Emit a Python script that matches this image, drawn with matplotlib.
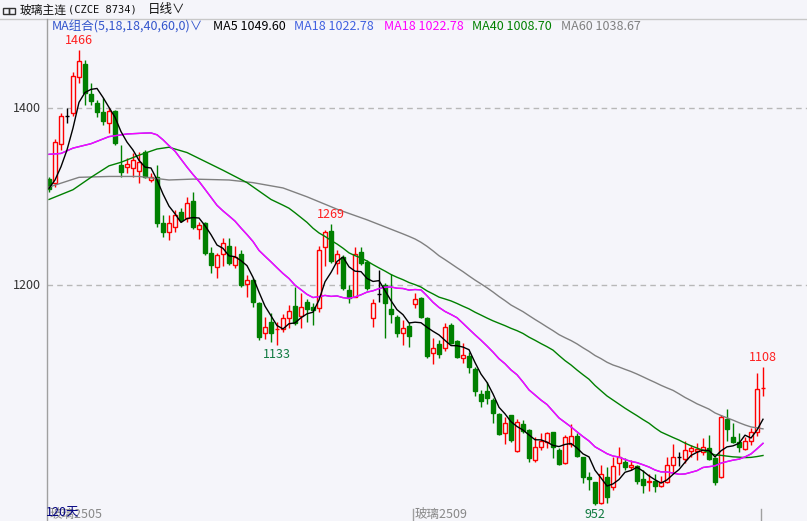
import matplotlib
matplotlib.use('Agg')
import matplotlib.pyplot as plt
from matplotlib.patches import Rectangle
import pandas as pd

plt.rcParams['font.family'] = ['Noto Sans CJK SC', 'DejaVu Sans']

# ---- 日K数据 ----
opens = [1319.8, 1315.3, 1359.3, 1391.0, 1394.4, 1435.7, 1450.0, 1416.2, 1406.3, 1396.2,
         1383.7, 1397.0, 1335.9, 1333.3, 1332.9, 1329.5, 1351.0, 1319.0, 1322.7, 1270.0,
         1260.6, 1266.2, 1283.2, 1275.7, 1295.2, 1263.3, 1270.0, 1236.2, 1221.0, 1235.4,
         1244.4, 1222.9, 1235.4, 1201.1, 1206.0, 1180.3, 1145.8, 1158.5, 1150.3, 1150.3,
         1162.7, 1176.6, 1165.6, 1180.8, 1175.8, 1174.0, 1243.6, 1261.7, 1224.9, 1232.3,
         1194.7, 1187.0, 1238.0, 1226.7, 1162.7, 1189.8, 1200.3, 1173.2, 1164.5, 1145.8,
         1154.0, 1178.5, 1185.3, 1162.7, 1123.2, 1133.6, 1128.8, 1155.1, 1137.4, 1117.5,
         1120.0, 1105.4, 1077.2, 1081.0, 1070.4, 1054.6, 1032.7, 1053.4, 1013.1, 1043.3,
         1036.5, 1002.6, 1016.9, 1023.3, 1034.6, 1013.9, 998.9, 1020.7, 1029.7, 1005.6,
         983.7, 977.3, 954.3, 983.0, 972.4, 998.9, 1000.6, 994.4, 995.8, 980.8,
         978.1, 979.2, 973.2, 978.1, 996.9, 1005.6, 1003.4, 1013.1, 1013.1, 1012.0,
         1015.8, 1004.5, 983.0, 1048.6, 1028.2, 1023.3, 1014.7, 1024.4, 1034.6, 1083.6]
highs = [1322.7, 1365.3, 1394.4, 1400.0, 1440.7, 1466.0, 1454.6, 1429.0, 1409.4, 1411.3,
         1400.0, 1398.0, 1358.5, 1343.5, 1349.2, 1351.0, 1352.9, 1327.2, 1335.9, 1279.4,
         1279.4, 1285.1, 1287.0, 1300.1, 1305.8, 1271.9, 1271.9, 1243.6, 1236.2, 1253.1,
         1253.1, 1244.4, 1239.9, 1211.6, 1207.9, 1181.5, 1163.8, 1168.3, 1158.9, 1167.6,
         1177.7, 1198.4, 1190.9, 1184.2, 1180.3, 1244.4, 1262.5, 1269.0, 1239.9, 1234.2,
         1200.3, 1243.6, 1243.6, 1228.6, 1184.2, 1217.3, 1202.2, 1212.8, 1166.4, 1160.7,
         1158.9, 1190.9, 1187.2, 1164.5, 1140.0, 1138.2, 1157.7, 1156.9, 1138.2, 1134.4,
         1125.0, 1108.0, 1081.7, 1091.0, 1072.3, 1055.4, 1051.5, 1053.4, 1048.6, 1047.8,
         1037.3, 1028.2, 1032.7, 1034.6, 1034.6, 1015.8, 1030.8, 1043.3, 1032.7, 1006.3,
         989.4, 978.1, 996.9, 995.0, 1005.6, 1017.6, 1004.5, 1002.6, 997.0, 991.0,
         986.8, 986.8, 984.5, 1006.3, 1020.7, 1011.9, 1024.4, 1019.5, 1021.4, 1027.1,
         1030.8, 1005.6, 1053.4, 1059.9, 1044.0, 1033.4, 1028.9, 1038.4, 1100.5, 1108.0]
lows = [1305.8, 1311.4, 1352.9, 1383.0, 1391.3, 1428.3, 1403.7, 1403.7, 1390.5, 1381.1,
        1371.8, 1358.5, 1322.7, 1327.2, 1322.7, 1315.2, 1321.2, 1317.1, 1266.2, 1254.9,
        1251.2, 1260.6, 1271.9, 1271.9, 1263.6, 1252.0, 1234.2, 1213.6, 1207.9, 1221.8,
        1222.9, 1219.2, 1198.4, 1187.0, 1175.8, 1138.2, 1139.0, 1136.3, 1133.0, 1147.5,
        1151.4, 1155.1, 1151.4, 1158.9, 1155.1, 1170.2, 1221.8, 1224.9, 1212.8, 1194.7,
        1179.6, 1187.0, 1222.9, 1194.7, 1153.2, 1181.5, 1140.0, 1157.7, 1141.9, 1132.5,
        1129.9, 1174.0, 1162.7, 1118.1, 1111.0, 1117.5, 1126.0, 1133.6, 1117.5, 1111.9,
        1101.0, 1074.9, 1062.0, 1066.0, 1044.7, 1030.8, 1020.7, 1023.0, 1012.0, 1032.7,
        1000.7, 1000.7, 1013.9, 1015.8, 1004.5, 996.9, 998.0, 1016.9, 1006.3, 976.9,
        968.7, 952.0, 953.0, 954.3, 968.7, 985.6, 990.9, 990.9, 976.0, 965.6,
        967.9, 966.8, 972.0, 977.0, 987.6, 995.8, 998.9, 1005.6, 1002.6, 1008.2,
        1002.6, 974.3, 981.9, 1024.4, 1021.4, 1012.0, 1013.9, 1019.5, 1029.7, 1074.9]
closes = [1308.5, 1361.6, 1391.0, 1391.0, 1436.5, 1453.8, 1417.0, 1408.6, 1396.2, 1386.0,
          1397.3, 1361.1, 1327.7, 1337.0, 1341.2, 1339.0, 1322.7, 1322.7, 1270.7, 1260.6,
          1270.7, 1279.4, 1273.8, 1292.6, 1266.2, 1268.1, 1236.2, 1222.9, 1234.2, 1247.4,
          1225.6, 1231.6, 1200.3, 1206.0, 1181.5, 1141.9, 1152.5, 1145.8, 1150.8, 1162.7,
          1171.3, 1157.0, 1175.0, 1172.9, 1172.0, 1239.9, 1260.2, 1227.5, 1235.0, 1196.6,
          1185.3, 1235.4, 1224.9, 1196.6, 1179.6, 1189.8, 1179.6, 1167.5, 1145.8, 1151.4,
          1142.7, 1184.2, 1164.5, 1120.0, 1128.8, 1122.3, 1153.2, 1135.1, 1119.3, 1121.2,
          1107.3, 1081.0, 1069.6, 1072.3, 1056.0, 1031.9, 1044.0, 1025.2, 1045.2, 1035.7,
          1004.5, 1016.9, 1024.4, 1032.7, 1016.9, 998.0, 1028.9, 1030.0, 1007.1, 983.7,
          980.8, 953.5, 986.8, 961.1, 995.8, 1005.6, 994.4, 997.0, 979.0, 974.3,
          978.5, 972.7, 978.1, 996.9, 1005.6, 1005.6, 1013.9, 1016.5, 1015.0, 1017.6,
          1003.4, 978.1, 1050.8, 1037.3, 1023.3, 1017.6, 1024.4, 1034.6, 1082.5, 1084.2]

# 窗口之前没有数据, 均线开头一段读图
ma5_head_idx = [0, 1, 2, 3]
ma5_head_val = [1309.6, 1319, 1334, 1353]
ma18_head_idx = [0, 2, 4, 7, 10, 13, 16]
ma18_head_val = [1348, 1349, 1355, 1360, 1368, 1371, 1372]
ma40_head_idx = [0, 4, 7, 10, 12, 15, 18, 20, 23, 26, 29, 33, 37]
ma40_head_val = [1297, 1308, 1322, 1335, 1339, 1347, 1354, 1356, 1350, 1340, 1330, 1316, 1297]
ma60_head_idx = [0, 5, 10, 15, 20, 24, 30, 34, 39, 43, 48, 53]
ma60_head_val = [1311, 1322, 1323, 1323, 1319, 1320, 1319, 1316, 1310, 1300, 1286, 1274]

high_marks = [5, 47, 119]
low_marks = [38, 91]

W, H = 807, 521
bg = '#f5f5fa'
up_c = '#ff0000'
dn_c = '#008000'

fig = plt.figure(figsize=(W / 100, H / 100), dpi=100)
fig.patch.set_facecolor(bg)


def ftext(x, y, s, **kw):
    fig.text(x / W, 1 - y / H, s, **kw)


# 像素 -> 坐标: i=0 在 x=49, 每根6px; 1400 在 y=108.3, 1200 在 y=285.3
ax = fig.add_axes([47 / W, 0, 1 - 47 / W, 1 - 20 / H])
ax.set_facecolor(bg)
ax.set_xlim(-1 / 3, 758 / 6)
ax.set_ylim(1400 - 412.7 / 0.885, 1400 + 88.3 / 0.885)
ax.axis('off')

# 网格虚线
for lv in [1400, 1200]:
    ax.axhline(lv, color='#b8b8b8', lw=1, ls=(0, (4, 3)), zorder=1)

# K线
bw = 0.75
for i, (o, h, l, c) in enumerate(zip(opens, highs, lows, closes)):
    if c > o:
        col = up_c
        face = bg
    elif c < o:
        col = dn_c
        face = dn_c
    else:
        col = 'black'
        face = 'black'
    ax.vlines(i, l, h, color=col, lw=1, zorder=2)
    if c == o:
        ax.hlines(o, i - bw / 2, i + bw / 2, color=col, lw=1, zorder=3)
    else:
        ax.add_patch(Rectangle((i - bw / 2, min(o, c)), bw, abs(c - o),
                               facecolor=face, edgecolor=col, lw=1, zorder=3))

# 均线
cs = pd.Series(closes)


def ma_line(n, head_idx, head_val):
    roll = cs.rolling(n).mean()
    idx = list(head_idx) + list(range(n - 1, len(closes)))
    val = list(head_val) + list(roll[n - 1:])
    return idx, val


x60, y60 = ma_line(60, ma60_head_idx, ma60_head_val)
x40, y40 = ma_line(40, ma40_head_idx, ma40_head_val)
x18, y18 = ma_line(18, ma18_head_idx, ma18_head_val)
x5, y5 = ma_line(5, ma5_head_idx, ma5_head_val)
ax.plot(x60, y60, color='#808080', lw=1, zorder=4)
ax.plot(x40, y40, color='#008000', lw=1, zorder=4)
ax.plot(x18, y18, color='#4060e0', lw=1, zorder=4)
ax.plot(x18, y18, color='#ff00ff', lw=1, zorder=4)
ax.plot(x5, y5, color='black', lw=1, zorder=5)

# 高低点标注
for i in high_marks:
    ax.annotate(f'{highs[i]:.0f}', (i, highs[i]), xytext=(0, 3), textcoords='offset pixels',
                ha='center', va='bottom', fontsize=9, color='#ff2020', zorder=6)
for i in low_marks:
    ax.annotate(f'{lows[i]:.0f}', (i, lows[i]), xytext=(0, -3), textcoords='offset pixels',
                ha='center', va='top', fontsize=9, color='#107a40', zorder=6)

# 外框线
fig.add_artist(plt.Line2D([0, 1], [1 - 19 / H, 1 - 19 / H], color='#c8c8c8', lw=1))
fig.add_artist(plt.Line2D([46.5 / W, 46.5 / W], [0, 1 - 19 / H], color='#a0a0a0', lw=1))
for tx in [413, 761]:
    fig.add_artist(plt.Line2D([tx / W, tx / W], [0, 1 - 509 / H], color='#a0a0a0', lw=1))

# 标题栏
fig.add_artist(Rectangle((3 / W, 1 - 14 / H), 6 / W, 6 / H, fill=False, ec='#333333', lw=1))
fig.add_artist(Rectangle((9 / W, 1 - 14 / H), 6 / W, 6 / H, fill=False, ec='#333333', lw=1))
ftext(20, 10, '玻璃主连', fontsize=8.5, color='#111111', va='center')
ftext(68, 10, '(CZCE 8734)', fontsize=7.5, color='#111111', va='center', family='DejaVu Sans Mono')
ftext(148, 10, '日线∨', fontsize=9, color='#111111', va='center')

# 均线图例
legend = [(52, 'MA组合(5,18,18,40,60,0)∨', '#3355cc'),
          (213, 'MA5 1049.60', 'black'),
          (294, 'MA18 1022.78', '#4060e0'),
          (384, 'MA18 1022.78', '#ff00ff'),
          (472, 'MA40 1008.70', '#008000'),
          (561, 'MA60 1038.67', '#808080')]
for lx, s, col in legend:
    ftext(lx, 27, s, fontsize=9, color=col, va='center')

# 纵轴刻度
for lv, py in [(1400, 108.3), (1200, 285.3)]:
    ftext(41, py, str(lv), fontsize=9, color='#333333', ha='right', va='center')

# 底部标签
ftext(50, 514, '玻璃2505', fontsize=9, color='#888888', va='center')
ftext(46, 513, '120天', fontsize=9, color='#000080', va='center')
ftext(415, 514, '玻璃2509', fontsize=9, color='#888888', va='center')

fig.savefig('out.png', dpi=100, facecolor=bg)
